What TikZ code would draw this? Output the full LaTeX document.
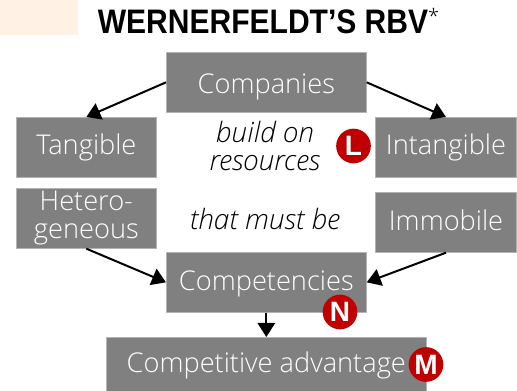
\documentclass[tikz,border=0pt]{standalone}
\usepackage{fontspec}
\usepackage{tikz}
\usetikzlibrary{arrows.meta}
\setmainfont{Open Sans Light}
\newfontfamily\titlefont[FakeStretch=0.883]{Liberation Sans}
\newfontfamily\badgefont{Liberation Sans}
\definecolor{boxgrey}{RGB}{128,128,128}
\definecolor{badgered}{RGB}{192,0,0}
\definecolor{peach}{RGB}{255,242,229}
\tikzset{
  greybox/.style={fill=boxgrey,draw=boxgrey!60!white,line width=0.5pt,text=white,font=\fontsize{20.4}{21}\selectfont,align=center,inner sep=0pt,anchor=north west},
  textdrop/.style={text height=#1,text depth=0pt},
  badge/.style={circle,fill=badgered,text=white,inner sep=0pt,minimum size=26pt,font=\badgefont\bfseries\fontsize{21}{21}\selectfont},
  joinarrow/.style={-{Triangle[length=10.5pt,width=13pt]},line width=1.5pt},
  notetext/.style={font=\itshape\fontsize{21}{21}\selectfont,align=center}
}
\begin{document}
\begin{tikzpicture}[x=0.75pt,y=0.75pt,yscale=-1,xscale=1]
\useasboundingbox (0,0) rectangle (517,391);

%Shape: Rectangle
\fill [peach] (0,0) rectangle (78,35);

% Text Node
\node (title) at (268.5,21) [font=\titlefont\bfseries\fontsize{25.5}{26}\selectfont] {WERNERFELDT’S RBV\raisebox{8pt}{\normalfont\fontsize{15}{15}\selectfont *}};

% Boxes
\node (companies) at (166,52) [greybox,textdrop=17pt,minimum width=150pt,minimum height=45pt] {Companies};
\node (tangible) at (16,117) [greybox,minimum width=105pt,minimum height=45pt] {Tangible};
\node (intangible) at (375,117) [greybox,minimum width=106pt,minimum height=45pt] {Intangible};
\node (hetero) at (16,188) [greybox,minimum width=105pt,minimum height=45pt] {Hetero-\\geneous};
\node (immobile) at (375,192) [greybox,textdrop=12pt,minimum width=106pt,minimum height=45pt] {Immobile};
\node (competencies) at (166,252) [greybox,textdrop=13pt,minimum width=150pt,minimum height=45pt] {Competencies};
\node (advantage) at (106,337) [greybox,minimum width=240pt,minimum height=41.5pt] {Competitive advantage};

% Text Node
\node (buildon) at (265,146) [notetext] {build on\\resources};
% Text Node
\node (mustbe) at (265,219) [notetext] {that must be};

% Arrows
\draw [joinarrow] (companies.west) -- (tangible.north);
\draw [joinarrow] (companies.east) -- (intangible.north);
\draw [joinarrow] (hetero.south) -- (competencies.west);
\draw [joinarrow] (immobile.south) -- (competencies.east);
\draw [joinarrow] (competencies.south) -- (advantage.north);

% Badges
\node (badgeL) at (353.5,146) [badge] {L};
\node (badgeN) at (340,312) [badge] {N};
\node (badgeM) at (426,364.5) [badge] {M};

\end{tikzpicture}
\end{document}
